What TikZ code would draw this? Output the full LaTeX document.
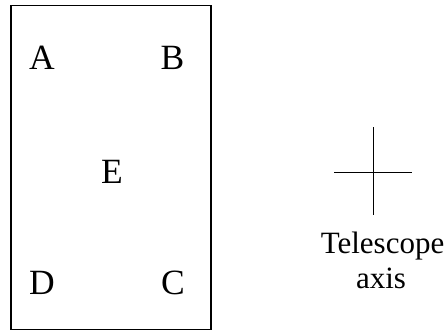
\documentclass[tikz,border=0pt]{standalone}
\usepackage{fontspec}
\setmainfont{Liberation Serif}
\begin{document}
\begin{tikzpicture}[x=1pt,y=-1pt,
  lbl/.style={anchor=base,inner sep=0pt,font=\fontsize{35.5}{40}\selectfont},
  captxt/.style={anchor=base,inner sep=0pt,align=center,font=\fontsize{31}{35}\selectfont},
  ln/.style={line width=1.4pt}]
\useasboundingbox (0,0) rectangle (447,331);
\draw[ln] (11,5.7) rectangle (211,329.5);
\node[lbl] (A) at (42,70) {A};
\node[lbl] (B) at (172.5,70) {B};
\node[lbl] (E) at (112,184) {E};
\node[lbl] (D) at (42,294) {D};
\node[lbl] (C) at (173,294) {C};
\coordinate (vt) at (373.3,127.3);
\coordinate (vb) at (373.3,215);
\coordinate (hl) at (334.3,172.3);
\coordinate (hr) at (412.3,172.3);
\draw[ln] (vt) -- (vb);
\draw[ln] (hl) -- (hr);
\node[captxt] (T) at (382.5,253) {Telescope};
\node[captxt] (ax) at (381,288.5) {axis};
\end{tikzpicture}
\end{document}
